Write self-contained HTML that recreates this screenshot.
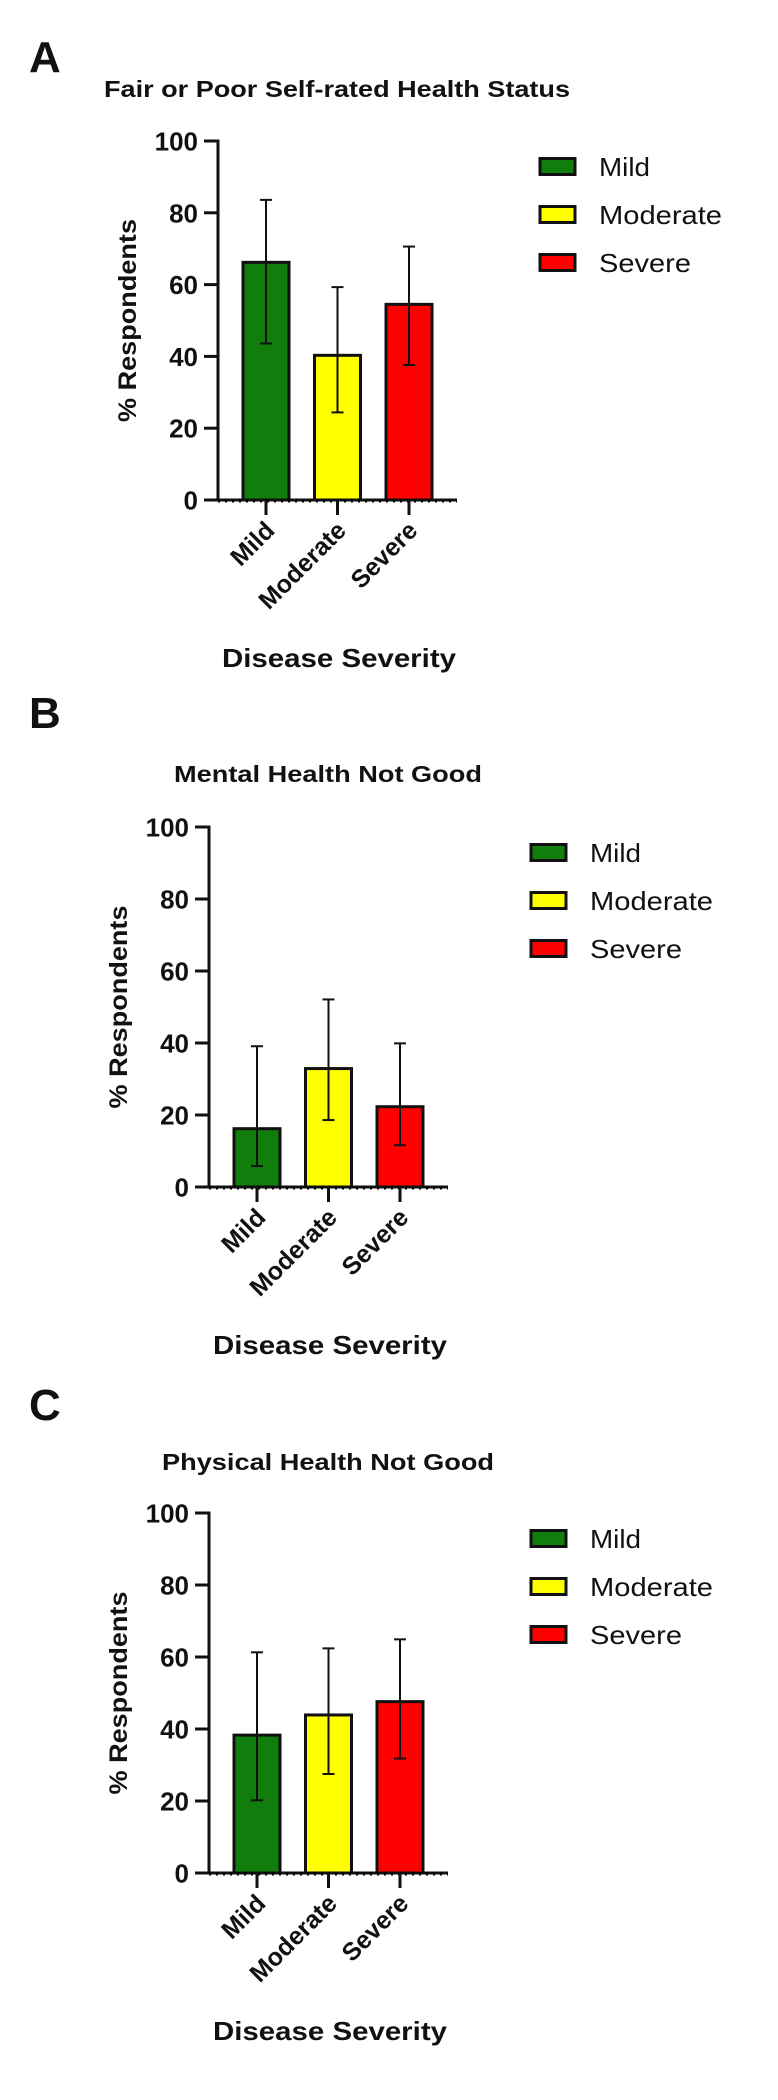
<!DOCTYPE html>
<html>
<head>
<meta charset="utf-8">
<style>
html,body{margin:0;padding:0;background:#fff;}
svg{display:block;}
text{font-family:"Liberation Sans",Arial,sans-serif;fill:#111;}
</style>
</head>
<body>
<svg id="fig" width="778" height="2100" viewBox="0 0 778 2100" xmlns="http://www.w3.org/2000/svg"></svg>
<script>
const categories = ["Mild", "Moderate", "Severe"];
const colors = ["#107d0c", "#ffff00", "#ff0000"];
const yTicks = [0, 20, 40, 60, 80, 100];
const yTickLabels = ["0", "20", "40", "60", "80", "100"];
const titles = ["Fair or Poor Self-rated Health Status", "Mental Health Not Good", "Physical Health Not Good"];
const panelLetters = ["A", "B", "C"];
const valuesA = [66.2, 40.3, 54.5];
const upperA = [83.6, 59.3, 70.6];
const lowerA = [43.6, 24.4, 37.6];
const valuesB = [16.2, 32.9, 22.3];
const upperB = [39.1, 52.1, 39.9];
const lowerB = [5.8, 18.6, 11.6];
const valuesC = [38.3, 43.9, 47.6];
const upperC = [61.3, 62.4, 64.9];
const lowerC = [20.2, 27.5, 31.8];

const NS = "http://www.w3.org/2000/svg";
const svg = document.getElementById("fig");
function mk(tag, attrs, parent, txt){
  const e = document.createElementNS(NS, tag);
  for (const k in attrs) e.setAttribute(k, attrs[k]);
  if (txt !== undefined) e.textContent = txt;
  (parent || svg).appendChild(e);
  return e;
}

const layouts = [
  {dx:9, top:141, bottom:500, title:{x:104, y:97, w:466}, letterY:72},
  {dx:0, top:827, bottom:1187, title:{x:174, y:782, w:308}, letterY:728},
  {dx:0, top:1513, bottom:1873, title:{x:162, y:1470, w:332}, letterY:1420}
];
const dataSets = [[valuesA, upperA, lowerA], [valuesB, upperB, lowerB], [valuesC, upperC, lowerC]];

layouts.forEach((L, p) => {
  const [vals, ups, los] = dataSets[p];
  const g = mk("g", {});
  
  
  const axisX = 209 + L.dx;
  const axisEnd = 448 + L.dx;
  const yScale = v => L.bottom - (v / 100) * (L.bottom - L.top);
  const barW = 46;
  const xCenter = i => 257 + L.dx + i * 71.5;

  const letter = mk("text", {x: 29, y: L.letterY, "font-size": 44, "font-weight": "bold"}, g, panelLetters[p]);
  
  

  const t = mk("text", {x: L.title.x, y: L.title.y, "font-size": 23, "font-weight": "bold", textLength: L.title.w, lengthAdjust: "spacingAndGlyphs"}, g, titles[p]);
  
  

  // bars
  vals.forEach((v, i) => {
    const y = yScale(v);
    const r = mk("rect", {x: xCenter(i) - barW/2, y: y, width: barW, height: L.bottom - y, fill: colors[i], stroke: "#111", "stroke-width": 3}, g);
    
    
  });
  // error bars
  vals.forEach((v, i) => {
    const cx = xCenter(i);
    const eg = mk("g", {stroke: "#111", "stroke-width": 2}, g);
    
    
    mk("line", {x1: cx, x2: cx, y1: yScale(ups[i]), y2: yScale(los[i])}, eg);
    mk("line", {x1: cx - 6, x2: cx + 6, y1: yScale(ups[i]), y2: yScale(ups[i])}, eg);
    mk("line", {x1: cx - 6, x2: cx + 6, y1: yScale(los[i]), y2: yScale(los[i])}, eg);
  });

  // y axis
  const ya = mk("g", {}, g);
  
  
  mk("line", {x1: axisX, x2: axisX, y1: L.top - 1.5, y2: L.bottom + 1.5, stroke: "#111", "stroke-width": 3}, ya);
  yTicks.forEach((v, k) => {
    const y = yScale(v);
    mk("line", {x1: axisX - 14, x2: axisX, y1: y, y2: y, stroke: "#111", "stroke-width": 3}, ya);
    const tl = mk("text", {x: axisX - 20, y: y + 9.5, "font-size": 26, "font-weight": "bold", "text-anchor": "end"}, ya, yTickLabels[k]);
    
    
  });
  const yt = mk("text", {x: 0, y: 0, "font-size": 25, "font-weight": "bold", "text-anchor": "middle", textLength: 203, lengthAdjust: "spacingAndGlyphs", transform: `translate(${118 + L.dx + 9},${(L.top + L.bottom)/2}) rotate(-90)`}, g, "% Respondents");
  
  

  // x axis
  const xa = mk("g", {}, g);
  
  
  mk("line", {x1: axisX - 14, x2: axisEnd, y1: L.bottom, y2: L.bottom, stroke: "#111", "stroke-width": 3}, xa);
  mk("line", {x1: axisX, x2: axisEnd, y1: L.bottom + 1, y2: L.bottom + 1, stroke: "#000", "stroke-width": 3, "stroke-dasharray": "2 5"}, xa);
  categories.forEach((c, i) => {
    const cx = xCenter(i);
    mk("line", {x1: cx, x2: cx, y1: L.bottom, y2: L.bottom + 15, stroke: "#111", "stroke-width": 3}, xa);
    const xl = mk("text", {x: 0, y: 0, "font-size": 25, "font-weight": "bold", "text-anchor": "end", transform: `translate(${cx + 10},${L.bottom + 32}) rotate(-45)`}, xa, c);
    
    
  });
  const xt = mk("text", {x: 330 + L.dx, y: L.bottom + 167, "font-size": 26, "font-weight": "bold", "text-anchor": "middle", textLength: 234, lengthAdjust: "spacingAndGlyphs"}, g, "Disease Severity");
  
  

  // legend
  const lg = mk("g", {}, g);
  
  
  const legW = [51, 123, 92];
  categories.forEach((c, i) => {
    const y0 = L.top + 16 + i * 48;
    const le = mk("g", {}, lg);
    
    
    mk("rect", {x: 531 + L.dx, y: y0 + 1.5, width: 35, height: 16, fill: colors[i], stroke: "#111", "stroke-width": 3}, le);
    mk("text", {x: 590 + L.dx, y: y0 + 19, "font-size": 26, textLength: legW[i], lengthAdjust: "spacingAndGlyphs"}, le, c);
  });
});
</script>
</body>
</html>
